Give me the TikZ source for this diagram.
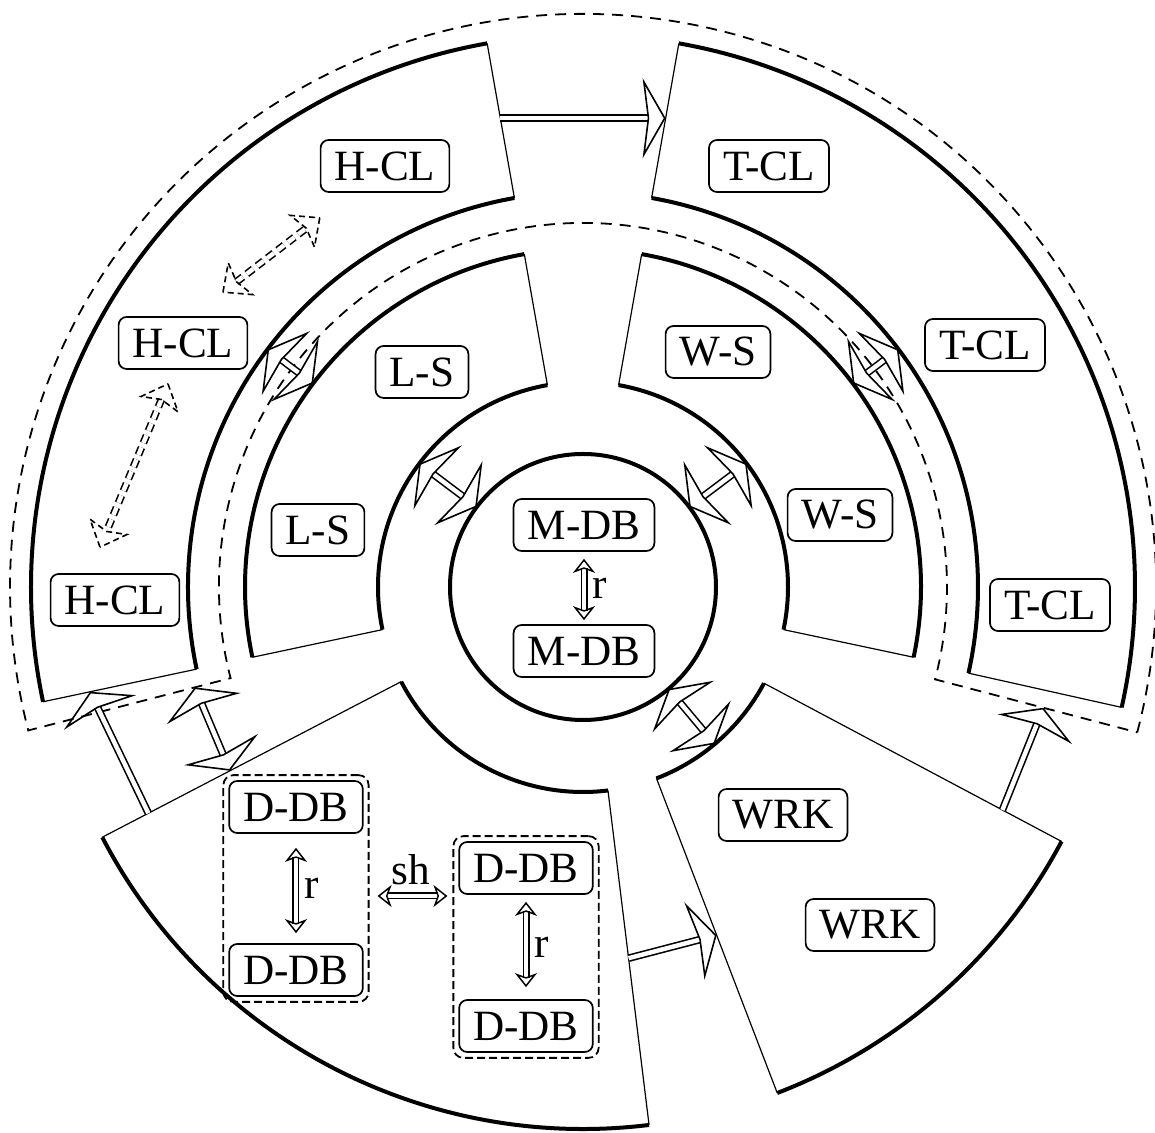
\documentclass[tikz,border=0pt]{standalone}
\usepackage{fontspec}
\setmainfont{Liberation Serif}
\usetikzlibrary{arrows.meta,calc,fit}
\tikzset{
  ring/.style={line width=2pt},
  sideline/.style={line width=0.6pt},
  zone/.style={line width=0.9pt,dash pattern=on 5.5pt off 4pt},
  box/.style={draw,rounded corners=4pt,line width=0.85pt,minimum height=26pt,
    inner xsep=7pt,inner ysep=0pt},
  dbgroup/.style={draw,rounded corners=5pt,line width=0.9pt,
    dash pattern=on 4pt off 2pt,inner sep=2.5pt},
  bigtip/.tip={Stealth[open,length=11.5pt,width=40pt,inset=2.5pt,line width=0.8pt]},
  smalltip/.tip={Stealth[open,length=7pt,width=11pt,inset=2pt,line width=0.75pt]},
  bigarrow/.style={double,double distance=2.2pt,line width=0.8pt,-bigtip},
  bigboth/.style={double,double distance=2.2pt,line width=0.8pt,bigtip-bigtip},
  smallboth/.style={double,double distance=2pt,line width=0.75pt,smalltip-smalltip},
  dashshaft/.style={double,double distance=2.2pt,line width=0.8pt,
    dash pattern=on 4pt off 2.5pt},
  dashtip/.style={line width=0.8pt,dash pattern=on 3pt off 2pt}
}
\newcommand{\dashboth}[2]{%
  \draw[dashshaft] ($(#1)!8.5pt!(#2)$) -- ($(#2)!8.5pt!(#1)$);
  \draw[dashtip] (#1) -- ($(#1)!11pt!(#2)!10pt!90:(#2)$) -- ($(#1)!8.5pt!(#2)$)
    -- ($(#1)!11pt!(#2)!10pt!-90:(#2)$) -- cycle;
  \draw[dashtip] (#2) -- ($(#2)!11pt!(#1)!10pt!90:(#1)$) -- ($(#2)!8.5pt!(#1)$)
    -- ($(#2)!11pt!(#1)!10pt!-90:(#1)$) -- cycle;
}

\begin{document}
\begin{tikzpicture}[x=0.5pt,y=0.5pt,font=\fontsize{21.6}{26}\selectfont]
  \useasboundingbox (-583,-546) rectangle (572,587);

  % core
  \draw[ring] (0,0) circle[radius=133];

  % outer ring: H-CL and T-CL
  \draw[sideline] (100:395) -- (100:552) (192:552) -- (192:395);
  \draw[ring] (100:552) arc[start angle=100,end angle=192,radius=552]
    (192:395) arc[start angle=192,end angle=100,radius=395];
  \draw[sideline] (-12.6:395) -- (-12.6:552) (80:552) -- (80:395);
  \draw[ring] (-12.6:552) arc[start angle=-12.6,end angle=80,radius=552]
    (80:395) arc[start angle=80,end angle=-12.6,radius=395];

  % middle ring: L-S and W-S
  \draw[sideline] (100:205) -- (100:338) (192:338) -- (192:205);
  \draw[ring] (100:338) arc[start angle=100,end angle=192,radius=338]
    (192:205) arc[start angle=192,end angle=100,radius=205];
  \draw[sideline] (-12:205) -- (-12:338) (80:338) -- (80:205);
  \draw[ring] (-12:338) arc[start angle=-12,end angle=80,radius=338]
    (80:205) arc[start angle=80,end angle=-12,radius=205];

  % lower sectors: D-DB and WRK
  \draw[sideline] (207.5:205) -- (207.5:542) (277:542) -- (277:205);
  \draw[ring] (207.5:542) arc[start angle=207.5,end angle=277,radius=542]
    (277:205) arc[start angle=277,end angle=207.5,radius=205];
  \draw[sideline] (291:205) -- (291:542) (332:542) -- (332:205);
  \draw[ring] (291:542) arc[start angle=291,end angle=332,radius=542]
    (332:205) arc[start angle=332,end angle=291,radius=205];

  % cluster zone
  \draw[zone] (-14.7:573) arc[start angle=-14.7,end angle=194.5,radius=573]
    -- (194.5:364) arc[start angle=194.5,end angle=-14.7,radius=364] -- cycle;

  % boxes
  \node[box] (hclA) at (-198,421) {H-CL};
  \node[box] (hclB) at (-400,244) {H-CL};
  \node[box] (hclC) at (-468,-13) {H-CL};
  \node[box] (tclA) at (186,421) {T-CL};
  \node[box] (tclB) at (402,242) {T-CL};
  \node[box] (tclC) at (467,-18) {T-CL};
  \node[box] (lsA) at (-161,215) {L-S};
  \node[box] (lsB) at (-265,57) {L-S};
  \node[box] (wsA) at (135,235) {W-S};
  \node[box] (wsB) at (257,72) {W-S};
  \node[box] (mdbA) at (1,62) {M-DB};
  \node[box] (mdbB) at (1,-64) {M-DB};
  \node[box] (wrkA) at (200,-228) {WRK};
  \node[box] (wrkB) at (287,-338) {WRK};
  \node[box] (ddbA) at (-287,-220) {D-DB};
  \node[box] (ddbB) at (-287,-383) {D-DB};
  \node[box] (ddbC) at (-57,-281) {D-DB};
  \node[box] (ddbD) at (-57,-439) {D-DB};
  \node[dbgroup,fit=(ddbA)(ddbB)] (grpA) {};
  \node[dbgroup,fit=(ddbC)(ddbD)] (grpB) {};

  % replication and sharding
  \draw[smallboth,shorten <=3.5pt,shorten >=2pt] (mdbA) -- node[right,inner sep=4pt] {r} (mdbB);
  \draw[smallboth,shorten <=7pt,shorten >=5pt] (ddbA) -- node[right,inner sep=4pt] {r} (ddbB);
  \draw[smallboth,shorten <=3.5pt,shorten >=6pt] (ddbC) -- node[right,inner sep=4pt] {r} (ddbD);
  \coordinate (shL) at ([yshift=-3.75pt]grpA.east);
  \draw[smallboth,shorten <=4pt,shorten >=2.5pt] (shL) -- node[above,inner sep=5pt] {sh} (shL -| grpB.west);

  % links between sectors
  \draw[bigarrow] (100:476) -- (80:476);
  \draw[bigboth] (143:133) -- (143:205);
  \draw[bigboth] (37:133) -- (37:205);
  \draw[bigboth] (310:133) -- (310:205);
  \draw[bigboth] (143:338) -- (143:395);
  \draw[bigboth] (37:338) -- (37:395);
  \draw[bigarrow] (207.5:490) -- (192:504);
  \draw[bigboth] (207.5:398) -- (194.5:401);
  \draw[bigarrow] (332:475) -- (345.3:476);
  \draw[bigarrow] (277:374) -- (291:373);

  % links inside H-CL
  \coordinate (hdA) at ($(hclB.north)+(40,24)$);
  \coordinate (hdB) at ($(hclA.south west)+(0,-25)$);
  \dashboth{hdA}{hdB}
  \coordinate (hdC) at ($(hclB.south)+(-15,-14)$);
  \coordinate (hdD) at ($(hclC.north)+(-15,26)$);
  \dashboth{hdC}{hdD}
\end{tikzpicture}
\end{document}
